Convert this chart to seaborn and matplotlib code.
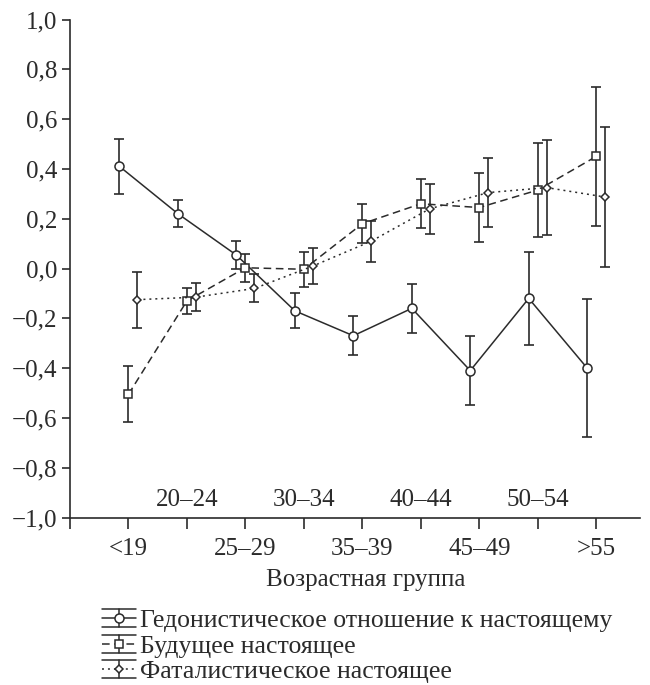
import numpy as np
import pandas as pd
import matplotlib
matplotlib.use("Agg")
import matplotlib.pyplot as plt
import matplotlib.transforms as mtransforms
from matplotlib.lines import Line2D
from matplotlib.legend_handler import HandlerBase
import seaborn as sns

# Chart data
age_groups = ['<19', '20–24', '25–29', '30–34', '35–39', '40–44', '45–49', '50–54', '>55']

hedonistic = [0.41, 0.22, 0.054, -0.17, -0.27, -0.16, -0.41, -0.12, -0.40]
hedonistic_err = [0.11, 0.055, 0.056, 0.07, 0.078, 0.098, 0.137, 0.188, 0.277]

future = [-0.505, -0.13, 0.003, -0.003, 0.18, 0.26, 0.245, 0.315, 0.45]
future_err = [0.112, 0.053, 0.057, 0.07, 0.079, 0.098, 0.137, 0.19, 0.28]

fatalistic = [-0.125, -0.115, -0.08, 0.01, 0.11, 0.24, 0.305, 0.325, 0.287]
fatalistic_err = [0.112, 0.055, 0.056, 0.072, 0.082, 0.10, 0.139, 0.19, 0.28]

series_names = [
    'Гедонистическое отношение к настоящему',
    'Будущее настоящее',
    'Фаталистическое настоящее',
]

sns.set_style('ticks')
plt.rcParams['font.family'] = ['Liberation Serif', 'DejaVu Serif']

INK = '#2b2b2b'
FS = 18
LEG_FS = 18.5


class ErrorbarLegendHandler(HandlerBase):
    """Legend key: line with marker, error bar and caps spanning the key."""

    def create_artists(self, legend, orig_handle, xdescent, ydescent,
                       width, height, fontsize, trans):
        x0, x1 = -xdescent, -xdescent + width
        xm = (x0 + x1) / 2
        y = height / 2 - ydescent
        hi, lo = y + 0.5 * height, y - 0.5 * height
        lw = orig_handle.get_linewidth()
        arts = [
            Line2D([x0, x1], [hi, hi], color=INK, lw=lw),
            Line2D([x0, x1], [lo, lo], color=INK, lw=lw),
            Line2D([xm, xm], [lo, hi], color=INK, lw=lw),
        ]
        main = Line2D([x0, x1], [y, y], color=INK, lw=lw)
        pattern = getattr(orig_handle, 'key_dashes', None)
        if pattern:
            main.set_dashes(pattern)
        arts.append(main)
        arts.append(Line2D([xm], [y], marker=orig_handle.get_marker(),
                           markersize=orig_handle.get_markersize(),
                           markerfacecolor='white', markeredgecolor=INK,
                           markeredgewidth=orig_handle.get_markeredgewidth(),
                           linestyle='none'))
        for a in arts:
            a.set_transform(trans)
        return arts


# long-format table, each series dodged a little around the category position
offsets = [-0.154, 0.0, 0.154]
rows = []
for name, vals, errs, off in zip(series_names,
                                 [hedonistic, future, fatalistic],
                                 [hedonistic_err, future_err, fatalistic_err],
                                 offsets):
    for i, (v, e) in enumerate(zip(vals, errs)):
        rows.append({'series': name, 'x': i + off, 'value': v, 'err': e})
df = pd.DataFrame(rows)

fig = plt.figure(figsize=(6.5, 6.85), dpi=100)
ax = fig.add_axes([0.1077, 0.2445, 0.877, 0.727])

markers = {series_names[0]: 'o', series_names[1]: 's', series_names[2]: 'D'}
msizes = {series_names[0]: 6.5, series_names[1]: 6.2, series_names[2]: 4.5}
dashes = {series_names[0]: None, series_names[1]: (5, 3), series_names[2]: (1.3, 2.6)}

handles = []
for name in series_names:
    sub = df[df['series'] == name]
    ax.errorbar(sub['x'], sub['value'], yerr=sub['err'], fmt='none',
                ecolor=INK, elinewidth=1.2, capsize=3.3, capthick=1.2, zorder=2)
    sns.lineplot(data=sub, x='x', y='value', ax=ax, color=INK, linewidth=1.1,
                 marker=markers[name], markersize=msizes[name],
                 markerfacecolor='white', markeredgecolor=INK, markeredgewidth=1.1,
                 legend=False, zorder=3, sort=False)
    line = ax.get_lines()[-1]
    if dashes[name]:
        line.set_dashes(dashes[name])
    line.key_dashes = dashes[name]
    handles.append(line)

# axes styling
ax.set_xlim(-1, 8.75)
ax.set_ylim(-1.0, 1.0)
sns.despine(ax=ax)
for sp in ['left', 'bottom']:
    ax.spines[sp].set_color(INK)
    ax.spines[sp].set_linewidth(1.2)

yt = np.round(np.arange(-1.0, 1.01, 0.2), 1)
ax.set_yticks(yt)
ylabels = []
for v in yt:
    v = 0.0 if abs(v) < 1e-9 else v
    ylabels.append(f'{v:.1f}'.replace('.', ',').replace('-', '−'))
ax.set_yticklabels(ylabels, fontsize=FS)

xt = np.arange(-1, len(age_groups))
ax.set_xticks(xt)
ax.set_xticklabels([''] + [g if i % 2 == 0 else '' for i, g in enumerate(age_groups)], fontsize=FS)
shift = mtransforms.ScaledTranslation(-8 / 100, 0, fig.dpi_scale_trans)
for lab in ax.get_xticklabels():
    lab.set_transform(lab.get_transform() + shift)
for i, g in enumerate(age_groups):
    if i % 2 == 1:
        ax.text(i, -0.93, g, ha='center', va='center', fontsize=FS, color=INK)

ax.tick_params(axis='y', length=6, width=1.2, color=INK, pad=3, labelcolor=INK)
ax.tick_params(axis='x', length=8, width=1.2, color=INK, pad=7, labelcolor=INK)

ax.set_xlabel('Возрастная группа', fontsize=FS, color=INK)
ax.set_ylabel('')
ax.xaxis.label.set_va('center')
ax.xaxis.set_label_coords(0.519, -0.126)

leg = fig.legend(handles, series_names, loc='upper left', bbox_to_anchor=(0.157, 0.111),
                 frameon=False, fontsize=LEG_FS, handlelength=1.32, handletextpad=0.15,
                 labelspacing=0.1, borderpad=0, borderaxespad=0,
                 handler_map={Line2D: ErrorbarLegendHandler()})
for t in leg.get_texts():
    t.set_color(INK)

fig.savefig('out.png', dpi=100)
